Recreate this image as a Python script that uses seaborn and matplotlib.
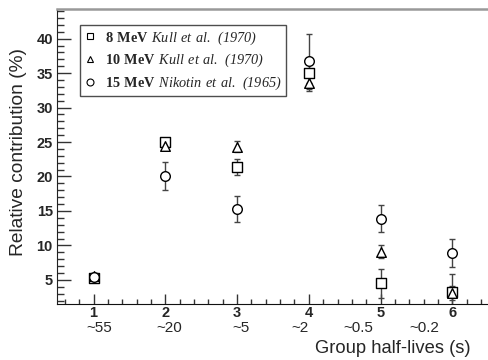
import matplotlib
matplotlib.use("Agg")
import matplotlib.pyplot as plt
from matplotlib.lines import Line2D
from matplotlib.ticker import MultipleLocator
import numpy as np
import pandas as pd
import seaborn as sns

# Data
groups = [1, 2, 3, 4, 5, 6]
half_lives = ["~55", "~20", "~5", "~2", "~0.5", "~0.2"]
half_life_pos = [1.08, 2.06, 3.06, 3.88, 4.69, 5.61]

mev8 = [5.3, 25.0, 21.4, 35.0, 4.5, 3.3]
mev8_err = [0.4, 0.6, 1.2, 1.5, 2.1, 2.5]
mev10 = [5.6, 24.4, 24.3, 33.6, 9.1, 3.1]
mev10_err = [0.4, 0.6, 0.8, 1.2, 1.0, 1.0]
mev15 = [5.4, 20.1, 15.3, 36.7, 13.9, 8.9]
mev15_err = [0.4, 2.0, 1.9, 4.0, 2.0, 2.1]

# \mathsf is mapped to an italic serif so that digits are slanted too
series = [
    (r"$\mathbf{8\ MeV}\ \mathsf{Kull\ et\ al.\ (1970)}$", mev8, mev8_err, "s"),
    (r"$\mathbf{10\ MeV}\ \mathsf{Kull\ et\ al.\ (1970)}$", mev10, mev10_err, "^"),
    (r"$\mathbf{15\ MeV}\ \mathsf{Nikotin\ et\ al.\ (1965)}$", mev15, mev15_err, "o"),
]

sns.set_style("ticks")
plt.rcParams["font.family"] = ["Liberation Sans", "DejaVu Sans"]
plt.rcParams["mathtext.fontset"] = "custom"
plt.rcParams["mathtext.rm"] = "Liberation Serif"
plt.rcParams["mathtext.sf"] = "Liberation Serif:italic"
plt.rcParams["mathtext.bf"] = "Liberation Serif:bold"

fig = plt.figure(figsize=(4.88, 3.6), dpi=100)
ax = fig.add_axes([0.1168, 0.1556, 0.891, 0.8194])

handles = []
for label, vals, errs, marker in series:
    df = pd.DataFrame({"group": groups, "value": vals})
    ax.errorbar(groups, vals, yerr=errs, fmt="none", ecolor="#444444",
                elinewidth=1.0, capsize=2.5, capthick=1.0, zorder=2)
    sns.scatterplot(data=df, x="group", y="value", marker=marker, s=48,
                    facecolor="white", edgecolor="black", linewidth=1.0,
                    ax=ax, zorder=3, legend=False)
    handles.append(Line2D([], [], marker=marker, linestyle="none", markersize=5,
                          markerfacecolor="white", markeredgecolor="black",
                          markeredgewidth=0.8, label=label))

ax.set_xlim(0.49, 6.55)
ax.set_ylim(1.5, 44.3)
ax.xaxis.set_major_locator(MultipleLocator(1))
ax.xaxis.set_minor_locator(MultipleLocator(0.2))
ax.yaxis.set_major_locator(MultipleLocator(5))
ax.yaxis.set_minor_locator(MultipleLocator(1))
ax.set_yticks(np.arange(5, 45, 5))

ax.tick_params(axis="x", which="major", direction="in", length=7, width=1,
               color="#333333", pad=1.5, labelsize=10.5)
ax.tick_params(axis="x", which="minor", direction="in", length=3.6, width=1,
               color="#333333")
ax.tick_params(axis="y", which="major", direction="in", length=10, width=1,
               color="#333333", pad=3, labelsize=10.5)
ax.tick_params(axis="y", which="minor", direction="in", length=5, width=1,
               color="#333333")
for lab in ax.get_xticklabels() + ax.get_yticklabels():
    lab.set_fontweight("bold")

ax.spines["right"].set_visible(False)
ax.spines["top"].set_color("#999999")
ax.spines["top"].set_linewidth(1.8)
ax.spines["left"].set_color("#222222")
ax.spines["bottom"].set_color("#111111")

ax.set_xlabel("")
ax.set_ylabel("")

trans = ax.get_xaxis_transform()
for pos, txt in zip(half_life_pos, half_lives):
    ax.text(pos, -0.082, txt, transform=trans, ha="center", va="center",
            fontsize=11)

fig.text(0.965, 0.033, "Group half-lives (s)", ha="right", va="center",
         fontsize=13.2)
fig.text(0.037, 0.867, "Relative contribution (%)", rotation=90, ha="center",
         va="top", fontsize=13.8)

leg = ax.legend(handles=handles, loc="upper left",
                bbox_to_anchor=(0.054, 0.946), frameon=True, fancybox=False,
                edgecolor="#222222", fontsize=10.3, handlelength=0.8,
                handletextpad=0.6, borderpad=0.3, labelspacing=0.38,
                borderaxespad=0)
leg.get_frame().set_linewidth(1.0)

fig.savefig("out.png", dpi=100)
